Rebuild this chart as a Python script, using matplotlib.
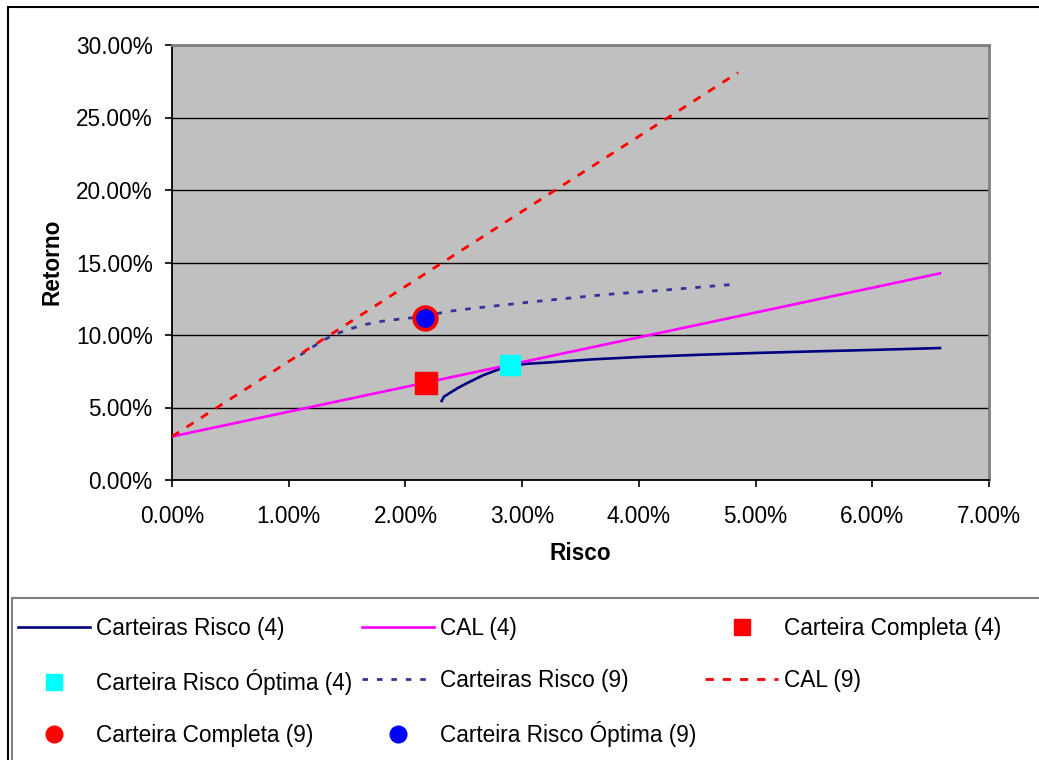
import matplotlib
matplotlib.use("Agg")
import matplotlib.pyplot as plt
from matplotlib.patches import Rectangle
from matplotlib.ticker import PercentFormatter, MultipleLocator

plt.rcParams["font.family"] = ["Liberation Sans", "DejaVu Sans"]

# --- data (risk %, return %) ---
risco_4 = [2.31, 2.33, 2.38, 2.45, 2.53, 2.67, 2.81, 2.90, 3.05, 3.22, 3.60,
           4.00, 4.50, 5.00, 5.50, 6.00, 6.58]
ret_4 = [5.45, 5.75, 6.00, 6.35, 6.69, 7.24, 7.66, 7.90, 8.02, 8.10, 8.32,
         8.48, 8.63, 8.76, 8.87, 8.97, 9.10]

cal4_x = [0.0, 6.58]
cal4_y = [3.0, 14.25]

risco_9 = [1.10, 1.20, 1.30, 1.40, 1.50, 1.65, 1.80, 1.95, 2.10, 2.25, 2.40,
           2.60, 3.10, 3.70, 4.30, 4.85]
ret_9 = [8.62, 9.15, 9.66, 10.05, 10.36, 10.72, 10.95, 11.10, 11.22, 11.45,
         11.66, 11.86, 12.30, 12.78, 13.15, 13.52]

cal9_x = [0.0, 4.85]
cal9_y = [3.0, 28.1]

completa_4 = (2.18, 6.72)
optima_4 = (2.90, 7.93)
completa_9 = (2.17, 11.15)
optima_9 = (2.17, 11.15)

W, H = 1039, 760
fig = plt.figure(figsize=(W / 100, H / 100), dpi=100)
ax = fig.add_axes([172 / W, 1 - 480 / H, (989 - 172) / W, (480 - 45) / H])
ax.set_facecolor("#C0C0C0")

FS = 16.3

l_r4, = ax.plot(risco_4, ret_4, color="#000080", lw=1.9, zorder=3,
                label="Carteiras Risco (4)")
l_c4, = ax.plot(cal4_x, cal4_y, color="#FF00FF", lw=1.9, zorder=3,
                label="CAL (4)")
l_r9, = ax.plot(risco_9, ret_9, color="#333399", lw=2.0, zorder=3,
                linestyle=(0, (2.0, 3.2)), label="Carteiras Risco (9)")
l_c9, = ax.plot(cal9_x, cal9_y, color="#FF0000", lw=2.0, zorder=3,
                linestyle=(0, (3.0, 3.2)), label="CAL (9)")

m_cc4, = ax.plot(*completa_4, marker="s", ms=15.5, color="#FF0000",
                 linestyle="none", zorder=5, label="Carteira Completa (4)")
m_co4, = ax.plot(*optima_4, marker="s", ms=14.5, color="#00FFFF",
                 linestyle="none", zorder=5, label="Carteira Risco Óptima (4)")
m_cc9, = ax.plot(*completa_9, marker="o", ms=18, color="#FF0000",
                 linestyle="none", zorder=5, label="Carteira Completa (9)")
m_co9, = ax.plot(*optima_9, marker="o", ms=12.5, color="#0000FF",
                 linestyle="none", zorder=6, label="Carteira Risco Óptima (9)")

ax.set_xlim(0, 7)
ax.set_ylim(0, 30)
ax.xaxis.set_major_locator(MultipleLocator(1))
ax.yaxis.set_major_locator(MultipleLocator(5))
ax.xaxis.set_major_formatter(PercentFormatter(xmax=100, decimals=2))
ax.yaxis.set_major_formatter(PercentFormatter(xmax=100, decimals=2))
ax.grid(axis="y", color="black", lw=1.0, zorder=1)
ax.set_axisbelow(True)
ax.tick_params(axis="both", direction="out", length=5, width=1.2,
               labelsize=FS, color="black")
ax.tick_params(axis="y", pad=9)
ax.tick_params(axis="x", pad=13)

for side in ("left", "bottom"):
    ax.spines[side].set_color("black")
    ax.spines[side].set_linewidth(1.3)
for side in ("top", "right"):
    ax.spines[side].set_color("#808080")
    ax.spines[side].set_linewidth(2.0)

ax.set_xlabel("Risco", fontsize=FS, fontweight="bold")
ax.set_ylabel("Retorno", fontsize=FS, fontweight="bold")
ax.xaxis.set_label_coords(0.4994, -0.168)
ax.yaxis.set_label_coords(-0.147, 0.501)
ax.xaxis.label.set_va("center")
ax.yaxis.label.set_va("center")

# outer chart border and legend box (both run past the cropped edges)
fig.patches.append(Rectangle((8 / W, -0.1), 1.2, 1 - 7 / H + 0.1,
                             transform=fig.transFigure, fill=False,
                             edgecolor="black", lw=1.5, clip_on=False))
fig.patches.append(Rectangle((12 / W, -0.1), 1.2, 1 - 598 / H + 0.1,
                             transform=fig.transFigure, fill=False,
                             edgecolor="#808080", lw=1.5, clip_on=False))

# column-major order so the rows read as in the reference
handles = [l_r4, m_co4, m_cc9, l_c4, l_r9, m_co9, m_cc4, l_c9]
leg = fig.legend(handles=handles, labels=[h.get_label() for h in handles],
                 ncol=3, loc="upper left",
                 bbox_to_anchor=(18 / W, 1 - 617 / H),
                 frameon=False, fontsize=FS, borderpad=0, borderaxespad=0,
                 handlelength=3.2, handletextpad=0.26, columnspacing=0.4,
                 labelspacing=1.27)
for h in leg.legend_handles:
    if h.get_marker() not in (None, "None", ""):
        h.set_markersize(12)

fig.savefig("out.png", dpi=100)
